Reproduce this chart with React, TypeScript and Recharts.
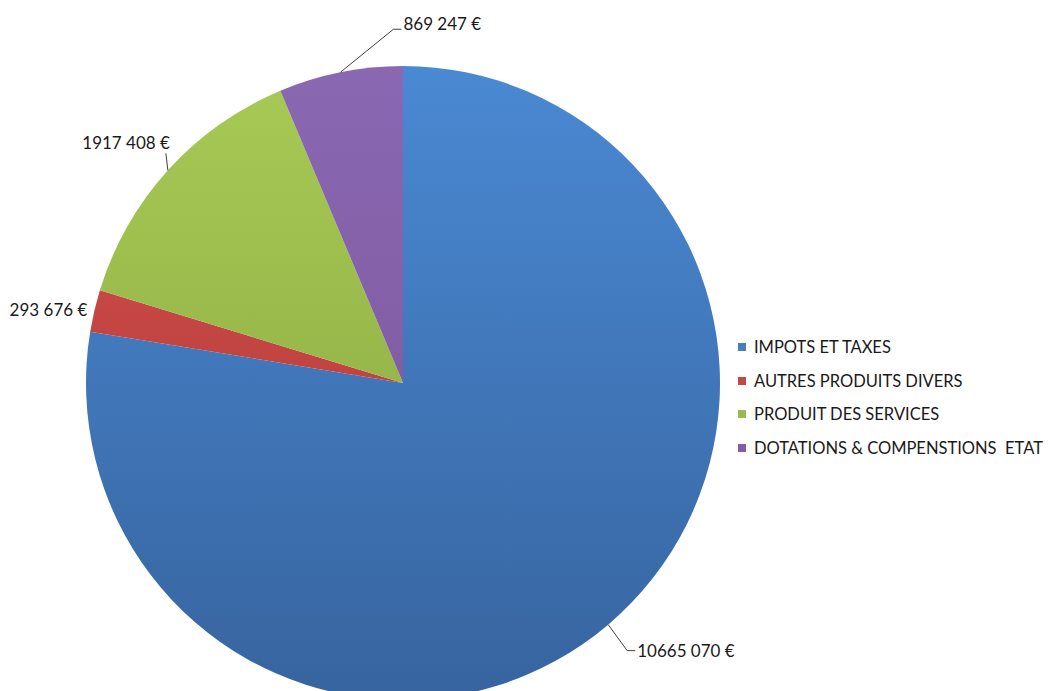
import React from "react";
import { PieChart, Pie, Cell, Legend } from "recharts";

const categories = [
  "IMPOTS ET TAXES",
  "AUTRES PRODUITS DIVERS",
  "PRODUIT DES SERVICES",
  "DOTATIONS & COMPENSTIONS  ETAT",
];
const amounts = [10665070, 293676, 1917408, 869247];
const valueLabels = ["10665 070 €", "293 676 €", "1917 408 €", "869 247 €"];

const data = categories.map((name, i) => ({ name, amount: amounts[i] }));

// gradient stops (top, bottom) per slice
const colors = [
  ["#4a89d3", "#37649f"],
  ["#d44d4a", "#ad3b39"],
  ["#a8ca55", "#88a33f"],
  ["#8a68b2", "#785396"],
];
const legendColors = ["#4a7ebb", "#be4b48", "#98b954", "#7d60a0"];

// leader line / text layout relative to the slice edge point
const labelLayout = [
  { line: [[19, 26], [27, 26]], tx: 29, ty: 26, anchor: "start" },
  { line: [], tx: -7, ty: -1, anchor: "end" },
  { line: [[-2, -17]], tx: 2, ty: -28, anchor: "end" },
  { line: [[53, -43], [61, -43]], tx: 63, ty: -49, anchor: "start" },
];

const RAD = Math.PI / 180;
const font = "Lato, 'Open Sans', sans-serif";

const renderLabel = (props: any) => {
  const { cx, cy, midAngle, outerRadius, index } = props;
  const px = cx + outerRadius * Math.cos(-midAngle * RAD);
  const py = cy + outerRadius * Math.sin(-midAngle * RAD);
  const l = labelLayout[index];
  const pts = [[px, py], ...l.line.map(([dx, dy]) => [px + dx, py + dy])];
  return (
    <g key={`lbl-${index}`}>
      {l.line.length > 0 && (
        <polyline
          points={pts.map((p) => p.join(",")).join(" ")}
          fill="none"
          stroke="#404040"
          strokeWidth={1}
        />
      )}
      <text
        x={px + l.tx}
        y={py + l.ty}
        textAnchor={l.anchor}
        dominantBaseline="central"
        fill="#1a1a1a"
        fontSize={17}
        fontFamily={font}
      >
        {valueLabels[index]}
      </text>
    </g>
  );
};

const renderLegend = () => (
  <div style={{ fontFamily: font, fontSize: 16.5, color: "#1a1a1a" }}>
    {categories.map((c, i) => (
      <div
        key={c}
        style={{ display: "flex", alignItems: "center", height: 33.7, whiteSpace: "pre" }}
      >
        <span
          style={{
            display: "inline-block",
            width: 8,
            height: 8,
            background: legendColors[i],
            marginRight: 8,
          }}
        />
        {c}
      </div>
    ))}
  </div>
);

const App = () => {
  return (
    <div style={{ position: "absolute", left: 0, top: 0 }}>
      <PieChart width={1051} height={691} margin={{ top: 0, right: 0, bottom: 0, left: 0 }}>
        <defs>
          {colors.map(([top, bottom], i) => (
            <linearGradient
              key={i}
              id={`grad-${i}`}
              gradientUnits="userSpaceOnUse"
              x1="0"
              y1="64"
              x2="0"
              y2="700"
            >
              <stop offset="0%" stopColor={top} />
              <stop offset="100%" stopColor={bottom} />
            </linearGradient>
          ))}
        </defs>
        <Pie
          data={data}
          dataKey="amount"
          nameKey="name"
          cx={403}
          cy={383}
          outerRadius={317}
          startAngle={90}
          endAngle={-270}
          stroke="none"
          label={renderLabel}
          labelLine={false}
          isAnimationActive={false}
        >
          {data.map((entry, index) => (
            <Cell key={`cell-${index}`} fill={`url(#grad-${index})`} />
          ))}
        </Pie>
        <Legend
          content={renderLegend}
          layout="vertical"
          wrapperStyle={{ left: 738, top: 330, width: 320 }}
        />
      </PieChart>
    </div>
  );
};

export default App;
